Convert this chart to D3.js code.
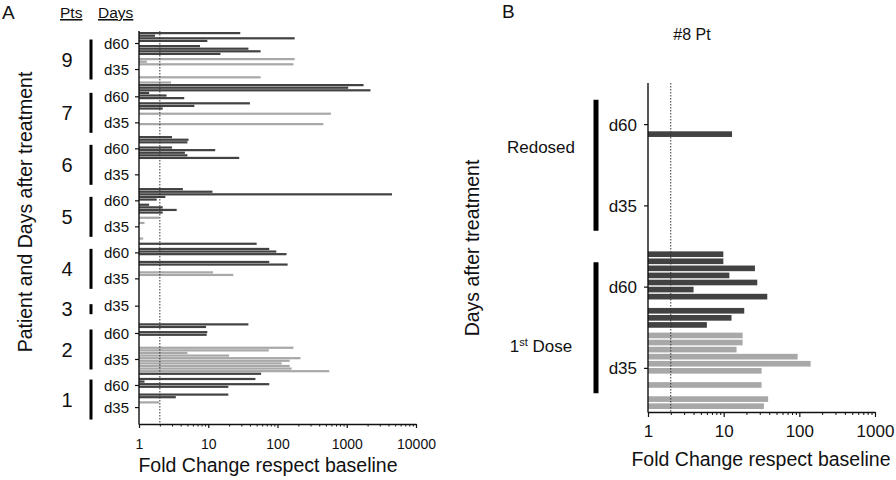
<!DOCTYPE html>
<html><head><meta charset="utf-8">
<script src="https://cdn.jsdelivr.net/npm/d3@7"></script>
<style>
body{margin:0;background:#fff;}
svg text{font-family:"Liberation Sans", Arial, sans-serif; fill:#111;}
</style></head><body>
<svg id="c" width="896" height="480"></svg>
<script>
// ---------------- DATA ----------------
// Panel A: one group per (patient, day); values top to bottom, null = empty row
const groupPatientA = ["9","9","7","7","6","6","5","5","4","4","3","2","2","1","1"];
const groupDayA     = ["d60","d35","d60","d35","d60","d35","d60","d35","d60","d35","d35","d60","d35","d60","d35"];
const p9_d60 = [29, 1.7, 177, 9.7, null, 7.6, 38, 57, 15];
const p9_d35 = [null, 177, 1.3, 170, null, null, null, null, 57, null, 2.9];
const p7_d60 = [1750, 1050, 2200, 1.4, 2.5, 4.5, null, 40, 6.3, 2.2];
const p7_d35 = [null, 590, null, null, null, 460, null, null, null, null];
const p6_d60 = [3.0, 5.2, 5.0, null, 3.0, 12.6, 4.6, 5.0, 28, null];
const p6_d35 = [null, null, null, null, null, null, null, null, null, null];
const p5_d60 = [4.3, 11.5, 4500, 2.4, 1.8, null, 1.4, 2.2, 3.5, 2.2];
const p5_d35 = [null, 1.95, null, 1.2, null, null, null, null, null, 1.15];
const p4_d60 = [null, 50, null, 76, 96, 135, null, null, 76, 140];
const p4_d35 = [null, null, 11.7, 23, null, null, null, null, null, null];
const p3_d35 = [null, null, null, null, null, null, null, null, null, null, null];
const p2_d60 = [null, 38, 9.3, null, 9.7, 9.5, null, null, null, null];
const p2_d35 = [170, 75, 5, 20, 215, 150, 115, 150, 160, 560];
const p1_d60 = [58, null, 48, 1.2, 76, 19.5, null, null, 19.5, 3.4];
const p1_d35 = [null, 1.95, null, null, null, null, null];
const rowsA = [p9_d60, p9_d35, p7_d60, p7_d35, p6_d60, p6_d35, p5_d60, p5_d35,
               p4_d60, p4_d35, p3_d35, p2_d60, p2_d35, p1_d60, p1_d35];
const xTicksA = [1, 10, 100, 1000, 10000];

// Panel B: patient #8
const catsB = ["Redosed|d60", "Redosed|d35", "1st|d60", "1st|d35"];
const redosed_d60 = [null, null, null, null, null, null, 12.9, null, null, null, null];
const redosed_d35 = [null, null, null, null, null, null, null, null, null, null, null];
const first_d60 = [9.9, 9.9, 25.9, 11.9, 27.8, 4.0, 37.7, null, 18.7, 12.7, 6.0];
const first_d35 = [17.8, 17.8, 14.8, 95, 141, 31.7, null, 31.7, null, 38.7, 34];
const rowsB = [redosed_d60, redosed_d35, first_d60, first_d35];
const xTicksB = [1, 10, 100, 1000];

// ---------------- DRAW ----------------
const dark = "#424242", light = "#a8a8a8";
const colorOf = d => d === "d60" ? dark : light;
const svg = d3.select("#c");
const fmt = d3.format("d");

// ===== Panel A =====
const gA = svg.append("g");
const groupsA = groupPatientA.map((p, i) => ({pt: p, day: groupDayA[i], vals: rowsA[i], gi: i}));
const flatA = groupsA.flatMap(g => g.vals.map((v, j) => ({key: g.gi + "-" + j, v, day: g.day})));
const yA = d3.scaleBand().domain(flatA.map(d => d.key)).range([32, 416.5]).paddingInner(0.15);
const xA = d3.scaleLog().domain([1, 10000]).range([139, 416]);
const axisYA = 424;

gA.selectAll("rect.bar").data(flatA.filter(d => d.v != null)).join("rect")
  .attr("x", xA(1)).attr("y", d => yA(d.key))
  .attr("width", d => xA(d.v) - xA(1)).attr("height", yA.bandwidth())
  .attr("fill", d => colorOf(d.day));

// dotted line at 2-fold
gA.append("line").attr("x1", xA(2)).attr("x2", xA(2)).attr("y1", 31).attr("y2", axisYA)
  .attr("stroke", "#333").attr("stroke-width", 1).attr("stroke-dasharray", "1.5,1.5");

// y axis line
gA.append("line").attr("x1", xA(1)).attr("x2", xA(1)).attr("y1", 31).attr("y2", axisYA + 0.5)
  .attr("stroke", "#111").attr("stroke-width", 1.4);

// group ticks
groupsA.forEach(g => {
  const first = yA(g.gi + "-0"), last = yA(g.gi + "-" + (g.vals.length - 1)) + yA.bandwidth();
  g.t = (first + last) / 2;
});
gA.selectAll("line.ytick").data(groupsA).join("line")
  .attr("x1", xA(1) - 4).attr("x2", xA(1)).attr("y1", d => d.t).attr("y2", d => d.t)
  .attr("stroke", "#111").attr("stroke-width", 1.2);
gA.selectAll("text.day").data(groupsA).join("text")
  .attr("x", 129).attr("y", d => d.t).attr("dy", "0.35em").attr("text-anchor", "end")
  .attr("font-size", 15).text(d => d.day);

// patient brackets
const pts = Array.from(d3.group(groupsA, d => d.pt), ([pt, gs]) => ({pt, gs}));
pts.forEach(p => {
  const mid = (p.gs[0].t + p.gs[p.gs.length - 1].t) / 2 + 3;
  const half = p.gs.length > 1 ? 20 : 5;
  gA.append("line").attr("x1", 91).attr("x2", 91).attr("y1", mid - half).attr("y2", mid + half)
    .attr("stroke", "#000").attr("stroke-width", 3);
  gA.append("text").attr("x", 67).attr("y", mid).attr("dy", "0.36em").attr("text-anchor", "middle")
    .attr("font-size", 20).text(p.pt);
});

// x axis
const minorA = d3.range(0, 4).flatMap(e => d3.range(2, 10).map(m => m * Math.pow(10, e)));
const axA = gA.append("g").attr("transform", `translate(0,${axisYA})`)
  .call(d3.axisBottom(xA).tickValues(xTicksA).tickFormat(fmt).tickSize(4).tickPadding(11).tickSizeOuter(0));
axA.select(".domain").attr("stroke", "#111").attr("stroke-width", 1.4);
axA.selectAll(".tick line").attr("stroke", "#111").attr("stroke-width", 1.2);
axA.selectAll(".tick text").attr("font-size", 14).attr("font-family", "Liberation Sans, Arial, sans-serif").attr("fill", "#111");
const mA = gA.append("g").attr("transform", `translate(0,${axisYA})`)
  .call(d3.axisBottom(xA).tickValues(minorA).tickFormat("").tickSize(2.5).tickSizeOuter(0));
mA.select(".domain").remove();
mA.selectAll(".tick line").attr("stroke", "#111");

gA.append("text").attr("x", 268).attr("y", 472).attr("text-anchor", "middle").attr("font-size", 19.5)
  .text("Fold Change respect baseline");
gA.append("text").attr("transform", "translate(32,212) rotate(-90)").attr("text-anchor", "middle")
  .attr("font-size", 19.5).text("Patient and Days after treatment");

gA.append("text").attr("x", 2).attr("y", 19).attr("font-size", 19).text("A");
gA.append("text").attr("x", 60).attr("y", 18).attr("font-size", 15.5).attr("text-decoration", "underline").text("Pts");
gA.append("text").attr("x", 98).attr("y", 18).attr("font-size", 15.5).attr("text-decoration", "underline").text("Days");

// ===== Panel B =====
const gB = svg.append("g");
const yB = d3.scaleBand().domain(catsB).range([84, 409]);
const inner = d3.scaleBand().domain(d3.range(11)).range([0, yB.bandwidth()])
  .paddingInner(0.2).paddingOuter(0.345).align(1);
const xB = d3.scaleLog().domain([1, 1000]).range([648, 875]);
const axisYB = 412;

const flatB = catsB.flatMap((c, i) => rowsB[i].map((v, j) => ({c, j, v, day: c.split("|")[1]})));
gB.selectAll("rect").data(flatB.filter(d => d.v != null)).join("rect")
  .attr("x", xB(1)).attr("y", d => yB(d.c) + inner(d.j))
  .attr("width", d => xB(d.v) - xB(1)).attr("height", inner.bandwidth())
  .attr("fill", d => colorOf(d.day));

gB.append("line").attr("x1", xB(2)).attr("x2", xB(2)).attr("y1", 83).attr("y2", axisYB)
  .attr("stroke", "#333").attr("stroke-width", 1).attr("stroke-dasharray", "1.5,1.5");
gB.append("line").attr("x1", xB(1)).attr("x2", xB(1)).attr("y1", 83).attr("y2", axisYB + 0.5)
  .attr("stroke", "#111").attr("stroke-width", 1.4);

const tB = c => yB(c) + yB.bandwidth() / 2;
gB.selectAll("line.yt").data(catsB).join("line")
  .attr("x1", xB(1) - 4).attr("x2", xB(1)).attr("y1", tB).attr("y2", tB)
  .attr("stroke", "#111").attr("stroke-width", 1.2);
gB.selectAll("text.d").data(catsB).join("text")
  .attr("x", 637).attr("y", tB).attr("dy", "0.35em").attr("text-anchor", "end")
  .attr("font-size", 17).text(c => c.split("|")[1]);

const doses = [["Redosed", 0.28], ["1st", 0.72]];
doses.forEach(([dose, w]) => {
  const t60 = tB(dose + "|d60"), t35 = tB(dose + "|d35");
  const mid = (t60 + t35) / 2;
  gB.append("line").attr("x1", 596).attr("x2", 596).attr("y1", mid - 65.5).attr("y2", mid + 65.5)
    .attr("stroke", "#000").attr("stroke-width", 5);
  const ly = d3.interpolateNumber(t60, t35)(w);
  const t = gB.append("text").attr("x", 541).attr("y", ly).attr("dy", "0.35em")
    .attr("text-anchor", "middle").attr("font-size", 17);
  if (dose === "1st") {
    t.append("tspan").text("1");
    t.append("tspan").attr("font-size", 11).attr("dy", -6).text("st");
    t.append("tspan").attr("dy", 6).text(" Dose");
  } else t.text(dose);
});

const minorB = d3.range(0, 3).flatMap(e => d3.range(2, 10).map(m => m * Math.pow(10, e)));
const axB = gB.append("g").attr("transform", `translate(0,${axisYB})`)
  .call(d3.axisBottom(xB).tickValues(xTicksB).tickFormat(fmt).tickSize(5).tickPadding(8).tickSizeOuter(0));
axB.select(".domain").attr("stroke", "#111").attr("stroke-width", 1.4);
axB.selectAll(".tick line").attr("stroke", "#111").attr("stroke-width", 1.2);
axB.selectAll(".tick text").attr("font-size", 17).attr("font-family", "Liberation Sans, Arial, sans-serif").attr("fill", "#111");
const mB = gB.append("g").attr("transform", `translate(0,${axisYB})`)
  .call(d3.axisBottom(xB).tickValues(minorB).tickFormat("").tickSize(3).tickSizeOuter(0));
mB.select(".domain").remove();
mB.selectAll(".tick line").attr("stroke", "#111");

gB.append("text").attr("x", 761).attr("y", 466).attr("text-anchor", "middle").attr("font-size", 19.5)
  .text("Fold Change respect baseline");
gB.append("text").attr("transform", "translate(479,248) rotate(-90)").attr("text-anchor", "middle")
  .attr("font-size", 19.5).text("Days after treatment");
gB.append("text").attr("x", 692).attr("y", 40).attr("text-anchor", "middle").attr("font-size", 16).text("#8 Pt");
gB.append("text").attr("x", 502).attr("y", 18).attr("font-size", 19).text("B");
</script>
</body></html>
